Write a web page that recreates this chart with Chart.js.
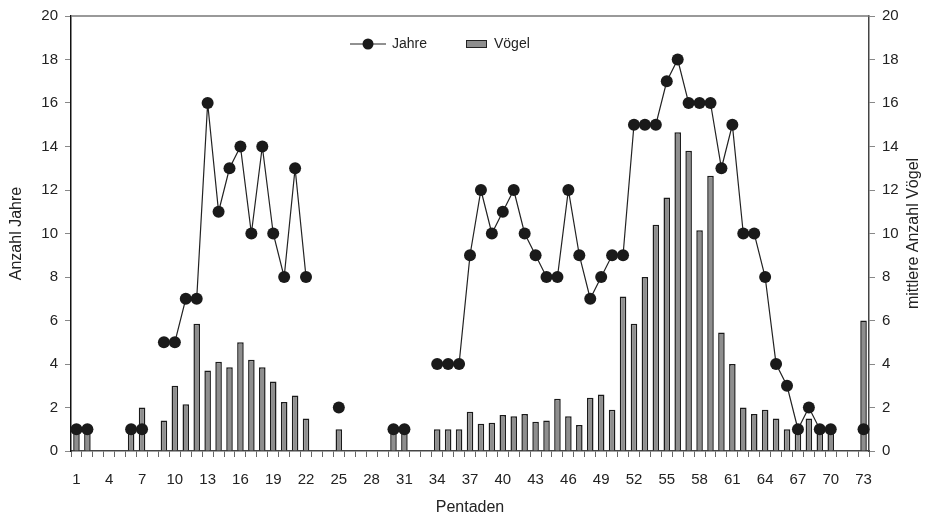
<!DOCTYPE html>
<html>
<head>
<meta charset="utf-8">
<script src="https://cdn.jsdelivr.net/npm/chart.js@4"></script>
<style>
  html, body { margin: 0; padding: 0; background: #fff; }
  #wrap { width: 929px; height: 518px; }
</style>
</head>
<body>
<div id="wrap"><canvas id="chart" width="929" height="518"></canvas></div>
<script>
"use strict";

// pentads 1..73
let pentaden = [];
for (let i = 1; i <= 73; i++) pentaden.push(String(i));

// Anzahl Jahre (left axis), null = no value
let jahre = [
  1, 1, null, null, null, 1, 1, null, 5, 5,
  7, 7, 16, 11, 13, 14, 10, 14, 10, 8,
  13, 8, null, null, 2, null, null, null, null, 1,
  1, null, null, 4, 4, 4, 9, 12, 10, 11,
  12, 10, 9, 8, 8, 12, 9, 7, 8, 9,
  9, 15, 15, 15, 17, 18, 16, 16, 16, 13,
  15, 10, 10, 8, 4, 3, 1, 2, 1, 1,
  null, null, 1
];

// mittlere Anzahl Vögel (right axis)
let voegel = [
  1.0, 1.0, null, null, null, 1.0, 2.0, null, 1.4, 3.0,
  2.15, 5.85, 3.7, 4.1, 3.85, 5.0, 4.2, 3.85, 3.2, 2.25,
  2.55, 1.5, null, null, 1.0, null, null, null, null, 1.0,
  1.0, null, null, 1.0, 1.0, 1.0, 1.8, 1.25, 1.3, 1.65,
  1.6, 1.7, 1.35, 1.4, 2.4, 1.6, 1.2, 2.45, 2.6, 1.9,
  7.1, 5.85, 8.0, 10.4, 11.65, 14.65, 13.8, 10.15, 12.65, 5.45,
  4.0, 2.0, 1.7, 1.9, 1.5, 1.0, 1.0, 1.5, 1.0, 1.0,
  null, null, 6.0
];

const FONT = "'Liberation Sans', Arial, sans-serif";
const TXT = "#222";

// legend, axis titles and top frame line
let extras = {
  id: "extras",
  afterDraw(chart) {
    let ctx = chart.ctx;
    let a = chart.chartArea;
    ctx.save();

    // top frame
    ctx.strokeStyle = "#777";
    ctx.lineWidth = 1.5;
    ctx.beginPath();
    ctx.moveTo(a.left, a.top);
    ctx.lineTo(a.right, a.top);
    ctx.stroke();

    // axis titles
    ctx.fillStyle = TXT;
    ctx.font = "16px " + FONT;
    ctx.textAlign = "center";
    ctx.textBaseline = "middle";
    let midY = (a.top + a.bottom) / 2;

    ctx.save();
    ctx.translate(17, midY);
    ctx.rotate(-Math.PI / 2);
    ctx.fillText("Anzahl Jahre", 0, 0);
    ctx.restore();

    ctx.save();
    ctx.translate(914, midY);
    ctx.rotate(-Math.PI / 2);
    ctx.fillText("mittlere Anzahl Vögel", 0, 0);
    ctx.restore();

    ctx.fillText("Pentaden", (a.left + a.right) / 2, 508);

    // legend
    let ly = 44;
    ctx.strokeStyle = "#222";
    ctx.lineWidth = 1;
    ctx.beginPath();
    ctx.moveTo(350, ly);
    ctx.lineTo(386, ly);
    ctx.stroke();
    ctx.fillStyle = "#1a1a1a";
    ctx.beginPath();
    ctx.arc(368, ly, 5.5, 0, Math.PI * 2);
    ctx.fill();

    ctx.fillStyle = "#8e8e8e";
    ctx.fillRect(466, ly - 3.5, 20, 7);
    ctx.strokeStyle = "#222";
    ctx.strokeRect(466.5, ly - 3.5, 20, 7);

    ctx.fillStyle = TXT;
    ctx.font = "14px " + FONT;
    ctx.textAlign = "left";
    ctx.fillText("Jahre", 392, ly);
    ctx.fillText("Vögel", 494, ly);

    ctx.restore();
  }
};

let chart = new Chart(document.getElementById("chart"), {
  data: {
    labels: pentaden,
    datasets: [
      {
        type: "line",
        label: "Jahre",
        data: jahre,
        yAxisID: "y",
        borderColor: "#222",
        borderWidth: 1.2,
        pointBackgroundColor: "#1a1a1a",
        pointBorderColor: "#1a1a1a",
        pointRadius: 6,
        pointBorderWidth: 0,
        spanGaps: false,
        tension: 0,
        order: 1
      },
      {
        type: "bar",
        label: "Vögel",
        data: voegel,
        yAxisID: "y1",
        backgroundColor: "#8e8e8e",
        borderColor: "#1a1a1a",
        borderWidth: 1.5,
        borderSkipped: "bottom",
        barPercentage: 0.6,
        categoryPercentage: 1,
        order: 2
      }
    ]
  },
  options: {
    responsive: false,
    animation: false,
    layout: { padding: { top: 13, left: 0, right: 0, bottom: 0 } },
    plugins: {
      legend: { display: false },
      tooltip: { enabled: false }
    },
    scales: {
      x: {
        type: "category",
        offset: true,
        grid: {
          offset: true,
          drawOnChartArea: false,
          drawTicks: true,
          tickLength: 6,
          color: "#666"
        },
        border: { color: "#444", width: 1.5 },
        ticks: {
          autoSkip: false,
          maxRotation: 0,
          padding: 14,
          color: TXT,
          font: { family: FONT, size: 15 },
          callback: function (v, i) {
            return i % 3 === 0 ? pentaden[i] : "";
          }
        },
        afterFit: function (s) { s.height = 67; }
      },
      y: {
        position: "left",
        min: 0,
        max: 20,
        grid: { drawOnChartArea: false, tickLength: 6, color: "#888" },
        border: { color: "#111", width: 1.5 },
        ticks: {
          stepSize: 2,
          padding: 7,
          color: TXT,
          font: { family: FONT, size: 15 }
        },
        afterFit: function (s) { s.width = 71; }
      },
      y1: {
        position: "right",
        min: 0,
        max: 20,
        grid: { drawOnChartArea: false, tickLength: 6, color: "#888" },
        border: { color: "#444", width: 1.5 },
        ticks: {
          stepSize: 2,
          padding: 7,
          color: TXT,
          font: { family: FONT, size: 15 }
        },
        afterFit: function (s) { s.width = 60; }
      }
    }
  },
  plugins: [extras]
});
</script>
</body>
</html>
